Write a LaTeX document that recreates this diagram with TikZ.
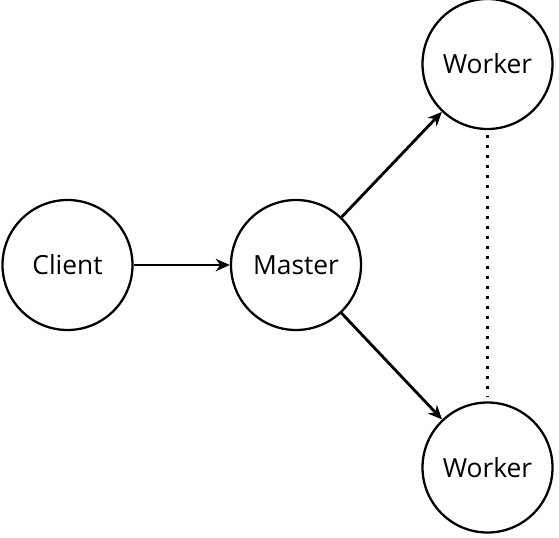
\documentclass[tikz,border=0pt]{standalone}
\usepackage{fontspec}
\setmainfont{Open Sans}
\usetikzlibrary{arrows.meta,positioning,shapes}

\begin{document}
\begin{tikzpicture}[
    proc/.style={circle, draw, line width=1.3pt, minimum size=2.6cm, inner sep=0pt,
                 font=\fontsize{15}{17}\selectfont}]
  \useasboundingbox (0,0) rectangle (11.18,-10.74);
  \node[proc] (Client) at (1.35,-5.3) {Client};
  \node[proc] (Master) at (5.92,-5.3) {Master};
  \node[proc] (W1) at (9.75,-1.28) {Worker};
  \node[proc] (W2) at (9.75,-9.35) {Worker};
  \draw[-{Stealth[length=8pt,width=7pt,inset=2.5pt]}, line width=1.6pt] (Client) -- (Master);
  \draw[-{Stealth[length=8pt,width=7pt,inset=2.5pt]}, line width=1.6pt] (Master) -- (W1);
  \draw[-{Stealth[length=8pt,width=7pt,inset=2.5pt]}, line width=1.6pt] (Master) -- (W2);
  \draw[line width=1.7pt, dash pattern=on 1.7pt off 4pt, shorten >=3pt, shorten <=3pt] (W1) -- (W2);
\end{tikzpicture}
\end{document}
